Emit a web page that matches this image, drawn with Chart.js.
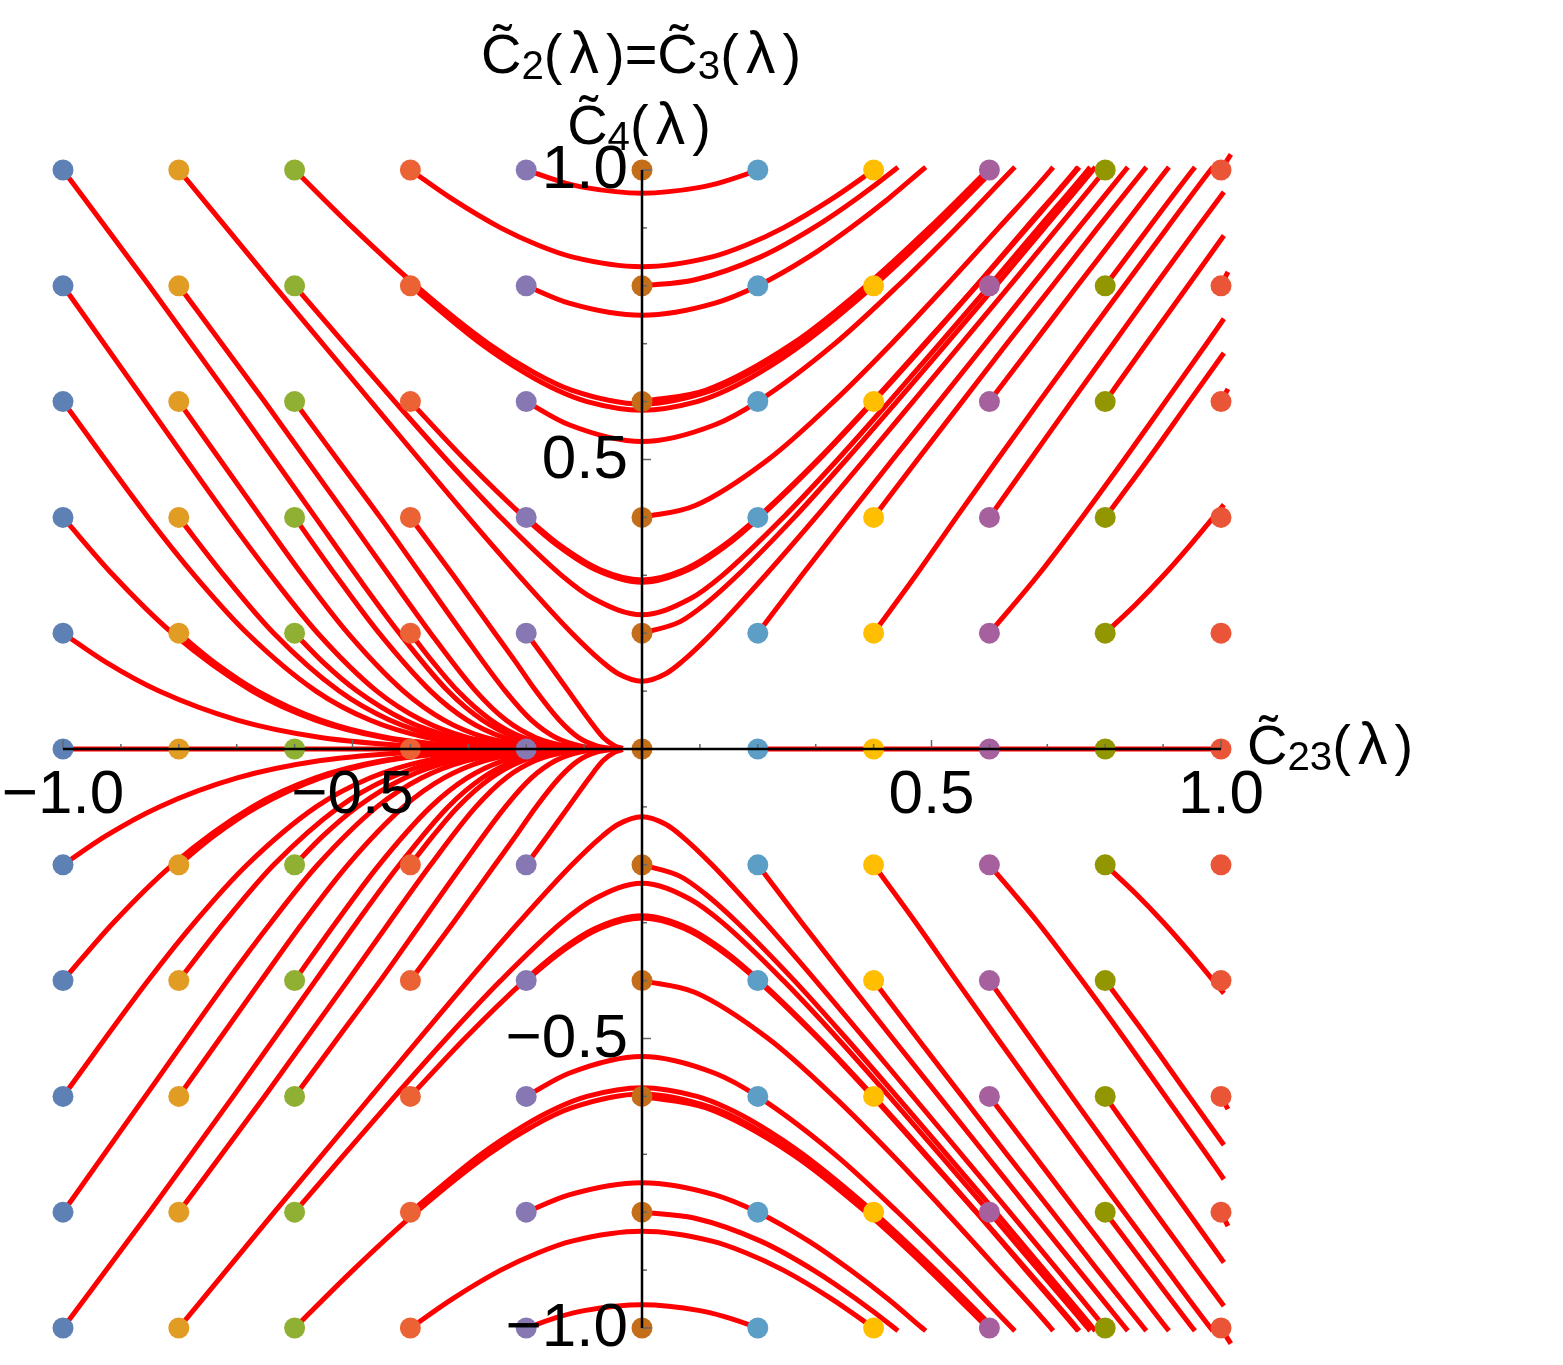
<!DOCTYPE html>
<html>
<head>
<meta charset="utf-8">
<script src="https://cdn.jsdelivr.net/npm/chart.js@4.4.1/dist/chart.umd.min.js"></script>
<style>
  body { margin: 0; background: #fff; }
  #wrap { position: relative; width: 1563px; height: 1365px; font-family: "Liberation Sans", Arial, sans-serif; }
  #flowChart { position: absolute; left: 0; top: 0; }
  .lbl { position: absolute; font-size: 56px; line-height: 1; white-space: nowrap; color: #000; }
  .lbl sub { font-size: 0.72em; vertical-align: -0.16em; line-height: 1; }
  .lam { display: inline-block; width: 0.74em; text-align: center; font-size: 1.05em; }
</style>
</head>
<body>
<div id="wrap">
  <canvas id="flowChart" width="1563" height="1365"></canvas>
  <div class="lbl" style="left:641px; top:24px; transform:translateX(-50%);">C&#x303;<sub>2</sub>(<span class="lam">λ</span>)=C&#x303;<sub>3</sub>(<span class="lam">λ</span>)</div>
  <div class="lbl" style="left:639px; top:95px; transform:translateX(-50%);">C&#x303;<sub>4</sub>(<span class="lam">λ</span>)</div>
  <div class="lbl" style="left:1247px; top:715px;">C&#x303;<sub>23</sub>(<span class="lam">λ</span>)</div>
</div>
<script>
// grid of starting points (one colour per column)
const gridX = [-1, -0.8, -0.6, -0.4, -0.2, 0, 0.2, 0.4, 0.6, 0.8, 1];
const gridY = [1, 0.8, 0.6, 0.4, 0.2, 0, -0.2, -0.4, -0.6, -0.8, -1];
const dotColors = ['#5E81B5', '#E19C24', '#8FB032', '#EB6235', '#8778B3', '#C56E1A',
                   '#5D9EC7', '#FFBF00', '#A5609D', '#929600', '#E95536'];

// axis ticks
const minorTickValues = [-1, -0.9, -0.8, -0.7, -0.6, -0.5, -0.4, -0.3, -0.2, -0.1,
                         0.1, 0.2, 0.3, 0.4, 0.5, 0.6, 0.7, 0.8, 0.9, 1];
const tickLabelValues = [-1, -0.5, 0.5, 1];

// flow lines, each one [x, y, x, y, ...] = [C23, C4] along lambda
const flowsToOriginUpper = [
  [-1,1, -0.851,0.8, -0.706,0.6, -0.564,0.4, -0.493,0.3, -0.419,0.2, -0.335,0.1, -0.276,0.05, -0.218,0.02, -0.154,0.005, -0.103,0.001, -0.033,0],
  [-1,0.8, -0.858,0.6, -0.716,0.4, -0.641,0.3, -0.560,0.2, -0.458,0.1, -0.381,0.05, -0.302,0.02, -0.213,0.005, -0.142,0.001, -0.080,0.0001, -0.033,0],
  [-0.8,0.8, -0.652,0.6, -0.508,0.4, -0.437,0.3, -0.365,0.2, -0.287,0.1, -0.235,0.05, -0.184,0.02, -0.130,0.005, -0.087,0.001, -0.033,0],
  [-1,0.6, -0.853,0.4, -0.773,0.3, -0.682,0.2, -0.563,0.1, -0.470,0.05, -0.373,0.02, -0.263,0.005, -0.176,0.001, -0.099,0.0001, -0.033,0],
  [-0.8,0.6, -0.658,0.4, -0.586,0.3, -0.508,0.2, -0.412,0.1, -0.342,0.05, -0.271,0.02, -0.191,0.005, -0.128,0.001, -0.072,0.0001, -0.033,0],
  [-0.6,0.6, -0.526,0.5, -0.452,0.4, -0.381,0.3, -0.310,0.2, -0.236,0.1, -0.191,0.05, -0.149,0.02, -0.105,0.005, -0.070,0.001, -0.033,0],
  [-1,0.4, -0.913,0.3, -0.811,0.2, -0.673,0.1, -0.564,0.05, -0.447,0.02, -0.316,0.005, -0.211,0.001, -0.119,0.0001, -0.033,0],
  [-0.8,0.4, -0.722,0.3, -0.636,0.2, -0.523,0.1, -0.436,0.05, -0.346,0.02, -0.244,0.005, -0.163,0.001, -0.092,0.0001, -0.033,0],
  [-0.6,0.4, -0.529,0.3, -0.454,0.2, -0.365,0.1, -0.302,0.05, -0.239,0.02, -0.168,0.005, -0.113,0.001, -0.063,0.0001, -0.033,0],
  [-0.4,0.4, -0.326,0.3, -0.254,0.2, -0.218,0.15, -0.183,0.1, -0.143,0.05, -0.110,0.02, -0.077,0.005, -0.052,0.001, -0.033,0],
  [-1,0.2, -0.926,0.15, -0.834,0.1, -0.699,0.05, -0.555,0.02, -0.392,0.005, -0.262,0.001, -0.148,0.0001, -0.033,0],
  [-0.8,0.2, -0.739,0.15, -0.664,0.1, -0.555,0.05, -0.441,0.02, -0.311,0.005, -0.208,0.001, -0.117,0.0001, -0.033,0],
  [-0.6,0.2, -0.551,0.15, -0.492,0.1, -0.410,0.05, -0.325,0.02, -0.230,0.005, -0.154,0.001, -0.086,0.0001, -0.033,0],
  [-0.4,0.2, -0.361,0.15, -0.318,0.1, -0.261,0.05, -0.206,0.02, -0.145,0.005, -0.097,0.001, -0.033,0],
  [-0.2,0.2, -0.163,0.15, -0.127,0.1, -0.091,0.05, -0.067,0.02, -0.046,0.005, -0.033,0.001]
];

const flowsToOriginLower = [
  [-1,-1, -0.851,-0.8, -0.706,-0.6, -0.564,-0.4, -0.493,-0.3, -0.419,-0.2, -0.335,-0.1, -0.276,-0.05, -0.218,-0.02, -0.154,-0.005, -0.103,-0.001, -0.033,0],
  [-1,-0.8, -0.858,-0.6, -0.716,-0.4, -0.641,-0.3, -0.560,-0.2, -0.458,-0.1, -0.381,-0.05, -0.302,-0.02, -0.213,-0.005, -0.142,-0.001, -0.080,-0.0001, -0.033,0],
  [-0.8,-0.8, -0.652,-0.6, -0.508,-0.4, -0.437,-0.3, -0.365,-0.2, -0.287,-0.1, -0.235,-0.05, -0.184,-0.02, -0.130,-0.005, -0.087,-0.001, -0.033,0],
  [-1,-0.6, -0.853,-0.4, -0.773,-0.3, -0.682,-0.2, -0.563,-0.1, -0.470,-0.05, -0.373,-0.02, -0.263,-0.005, -0.176,-0.001, -0.099,-0.0001, -0.033,0],
  [-0.8,-0.6, -0.658,-0.4, -0.586,-0.3, -0.508,-0.2, -0.412,-0.1, -0.342,-0.05, -0.271,-0.02, -0.191,-0.005, -0.128,-0.001, -0.072,-0.0001, -0.033,0],
  [-0.6,-0.6, -0.526,-0.5, -0.452,-0.4, -0.381,-0.3, -0.310,-0.2, -0.236,-0.1, -0.191,-0.05, -0.149,-0.02, -0.105,-0.005, -0.070,-0.001, -0.033,0],
  [-1,-0.4, -0.913,-0.3, -0.811,-0.2, -0.673,-0.1, -0.564,-0.05, -0.447,-0.02, -0.316,-0.005, -0.211,-0.001, -0.119,-0.0001, -0.033,0],
  [-0.8,-0.4, -0.722,-0.3, -0.636,-0.2, -0.523,-0.1, -0.436,-0.05, -0.346,-0.02, -0.244,-0.005, -0.163,-0.001, -0.092,-0.0001, -0.033,0],
  [-0.6,-0.4, -0.529,-0.3, -0.454,-0.2, -0.365,-0.1, -0.302,-0.05, -0.239,-0.02, -0.168,-0.005, -0.113,-0.001, -0.063,-0.0001, -0.033,0],
  [-0.4,-0.4, -0.326,-0.3, -0.254,-0.2, -0.218,-0.15, -0.183,-0.1, -0.143,-0.05, -0.110,-0.02, -0.077,-0.005, -0.052,-0.001, -0.033,0],
  [-1,-0.2, -0.926,-0.15, -0.834,-0.1, -0.699,-0.05, -0.555,-0.02, -0.392,-0.005, -0.262,-0.001, -0.148,-0.0001, -0.033,0],
  [-0.8,-0.2, -0.739,-0.15, -0.664,-0.1, -0.555,-0.05, -0.441,-0.02, -0.311,-0.005, -0.208,-0.001, -0.117,-0.0001, -0.033,0],
  [-0.6,-0.2, -0.551,-0.15, -0.492,-0.1, -0.410,-0.05, -0.325,-0.02, -0.230,-0.005, -0.154,-0.001, -0.086,-0.0001, -0.033,0],
  [-0.4,-0.2, -0.361,-0.15, -0.318,-0.1, -0.261,-0.05, -0.206,-0.02, -0.145,-0.005, -0.097,-0.001, -0.033,0],
  [-0.2,-0.2, -0.163,-0.15, -0.127,-0.1, -0.091,-0.05, -0.067,-0.02, -0.046,-0.005, -0.033,-0.001]
];

const crossingFlowsUpper = [
  [-0.8,1, -0.635,0.8, -0.468,0.6, -0.300,0.4, -0.213,0.3, -0.121,0.2, -0.068,0.15, -0.041,0.13, 0,0.117, 0.041,0.13, 0.068,0.15, 0.121,0.2, 0.213,0.3, 0.300,0.4, 0.468,0.6, 0.635,0.8, 0.8,1, 0.804,1.005],
  [-0.6,1, -0.499,0.9, -0.390,0.8, -0.265,0.7, -0.186,0.65, -0.122,0.62, 0,0.596, 0.122,0.62, 0.186,0.65, 0.265,0.7, 0.390,0.8, 0.499,0.9, 0.6,1, 0.605,1.005],
  [-0.4,1, -0.328,0.95, -0.244,0.9, -0.179,0.87, -0.121,0.85, 0,0.833, 0.121,0.85, 0.179,0.87, 0.244,0.9, 0.328,0.95, 0.4,1, 0.407,1.005],
  [-0.2,1, -0.141,0.98, -0.100,0.97, 0,0.960, 0.100,0.97, 0.141,0.98, 0.2,1, 0.212,1.005],
  [-0.6,0.8, -0.514,0.7, -0.427,0.6, -0.338,0.5, -0.244,0.4, -0.139,0.3, -0.084,0.26, 0,0.232, 0.084,0.26, 0.139,0.3, 0.244,0.4, 0.338,0.5, 0.427,0.6, 0.514,0.7, 0.6,0.8, 0.685,0.9, 0.770,1, 0.774,1.005],
  [-0.4,0.8, -0.278,0.7, -0.203,0.65, -0.147,0.62, -0.095,0.6, 0,0.585, 0.095,0.6, 0.147,0.62, 0.203,0.65, 0.278,0.7, 0.4,0.8, 0.507,0.9, 0.607,1, 0.612,1.005],
  [-0.2,0.8, -0.126,0.77, 0,0.749, 0.126,0.77, 0.2,0.8, 0.288,0.85, 0.360,0.9, 0.425,0.95, 0.484,1, 0.490,1.005],
  [0,0.8, 0.090,0.81, 0.205,0.85, 0.296,0.9, 0.370,0.95, 0.436,1, 0.442,1.005],
  [-0.4,0.6, -0.306,0.5, -0.203,0.4, -0.144,0.35, -0.081,0.31, 0,0.288, 0.081,0.31, 0.144,0.35, 0.203,0.4, 0.306,0.5, 0.4,0.6, 0.490,0.7, 0.578,0.8, 0.665,0.9, 0.751,1, 0.755,1.005],
  [-0.2,0.6, -0.126,0.56, 0,0.531, 0.126,0.56, 0.2,0.6, 0.333,0.7, 0.442,0.8, 0.543,0.9, 0.639,1, 0.644,1.005],
  [0,0.6, 0.111,0.62, 0.260,0.7, 0.387,0.8, 0.496,0.9, 0.597,1, 0.602,1.005],
  [-0.2,0.4, -0.139,0.35, -0.073,0.31, 0,0.292, 0.073,0.31, 0.139,0.35, 0.2,0.4, 0.304,0.5, 0.398,0.6, 0.488,0.7, 0.577,0.8, 0.663,0.9, 0.749,1, 0.753,1.005],
  [0,0.4, 0.091,0.42, 0.218,0.5, 0.331,0.6, 0.431,0.7, 0.525,0.8, 0.616,0.9, 0.706,1, 0.710,1.005],
  [0,0.2, 0.066,0.22, 0.109,0.25, 0.165,0.3, 0.263,0.4, 0.353,0.5, 0.440,0.6, 0.526,0.7, 0.611,0.8, 0.695,0.9, 0.779,1, 0.783,1.005]
];

const crossingFlowsLower = [
  [-0.8,-1, -0.635,-0.8, -0.468,-0.6, -0.300,-0.4, -0.213,-0.3, -0.121,-0.2, -0.068,-0.15, -0.041,-0.13, 0,-0.117, 0.041,-0.13, 0.068,-0.15, 0.121,-0.2, 0.213,-0.3, 0.300,-0.4, 0.468,-0.6, 0.635,-0.8, 0.8,-1, 0.804,-1.005],
  [-0.6,-1, -0.499,-0.9, -0.390,-0.8, -0.265,-0.7, -0.186,-0.65, -0.122,-0.62, 0,-0.596, 0.122,-0.62, 0.186,-0.65, 0.265,-0.7, 0.390,-0.8, 0.499,-0.9, 0.6,-1, 0.605,-1.005],
  [-0.4,-1, -0.328,-0.95, -0.244,-0.9, -0.179,-0.87, -0.121,-0.85, 0,-0.833, 0.121,-0.85, 0.179,-0.87, 0.244,-0.9, 0.328,-0.95, 0.4,-1, 0.407,-1.005],
  [-0.2,-1, -0.141,-0.98, -0.100,-0.97, 0,-0.960, 0.100,-0.97, 0.141,-0.98, 0.2,-1, 0.212,-1.005],
  [-0.6,-0.8, -0.514,-0.7, -0.427,-0.6, -0.338,-0.5, -0.244,-0.4, -0.139,-0.3, -0.084,-0.26, 0,-0.232, 0.084,-0.26, 0.139,-0.3, 0.244,-0.4, 0.338,-0.5, 0.427,-0.6, 0.514,-0.7, 0.6,-0.8, 0.685,-0.9, 0.770,-1, 0.774,-1.005],
  [-0.4,-0.8, -0.278,-0.7, -0.203,-0.65, -0.147,-0.62, -0.095,-0.6, 0,-0.585, 0.095,-0.6, 0.147,-0.62, 0.203,-0.65, 0.278,-0.7, 0.4,-0.8, 0.507,-0.9, 0.607,-1, 0.612,-1.005],
  [-0.2,-0.8, -0.126,-0.77, 0,-0.749, 0.126,-0.77, 0.2,-0.8, 0.288,-0.85, 0.360,-0.9, 0.425,-0.95, 0.484,-1, 0.490,-1.005],
  [0,-0.8, 0.090,-0.81, 0.205,-0.85, 0.296,-0.9, 0.370,-0.95, 0.436,-1, 0.442,-1.005],
  [-0.4,-0.6, -0.306,-0.5, -0.203,-0.4, -0.144,-0.35, -0.081,-0.31, 0,-0.288, 0.081,-0.31, 0.144,-0.35, 0.203,-0.4, 0.306,-0.5, 0.4,-0.6, 0.490,-0.7, 0.578,-0.8, 0.665,-0.9, 0.751,-1, 0.755,-1.005],
  [-0.2,-0.6, -0.126,-0.56, 0,-0.531, 0.126,-0.56, 0.2,-0.6, 0.333,-0.7, 0.442,-0.8, 0.543,-0.9, 0.639,-1, 0.644,-1.005],
  [0,-0.6, 0.111,-0.62, 0.260,-0.7, 0.387,-0.8, 0.496,-0.9, 0.597,-1, 0.602,-1.005],
  [-0.2,-0.4, -0.139,-0.35, -0.073,-0.31, 0,-0.292, 0.073,-0.31, 0.139,-0.35, 0.2,-0.4, 0.304,-0.5, 0.398,-0.6, 0.488,-0.7, 0.577,-0.8, 0.663,-0.9, 0.749,-1, 0.753,-1.005],
  [0,-0.4, 0.091,-0.42, 0.218,-0.5, 0.331,-0.6, 0.431,-0.7, 0.525,-0.8, 0.616,-0.9, 0.706,-1, 0.710,-1.005],
  [0,-0.2, 0.066,-0.22, 0.109,-0.25, 0.165,-0.3, 0.263,-0.4, 0.353,-0.5, 0.440,-0.6, 0.526,-0.7, 0.611,-0.8, 0.695,-0.9, 0.779,-1, 0.783,-1.005]
];

const outwardFlowsUpper = [
  [0.2,0.2, 0.276,0.3, 0.354,0.4, 0.433,0.5, 0.513,0.6, 0.593,0.7, 0.673,0.8, 0.754,0.9, 0.835,1, 0.839,1.005],
  [0.4,0.4, 0.476,0.5, 0.553,0.6, 0.630,0.7, 0.709,0.8, 0.787,0.9, 0.867,1, 0.871,1.005],
  [0.4,0.2, 0.473,0.3, 0.543,0.4, 0.614,0.5, 0.686,0.6, 0.759,0.7, 0.833,0.8, 0.907,0.9, 0.982,1, 0.986,1.005],
  [0.6,0.6, 0.676,0.7, 0.752,0.8, 0.829,0.9, 0.906,1, 0.910,1.005],
  [0.6,0.4, 0.671,0.5, 0.742,0.6, 0.814,0.7, 0.886,0.8, 0.959,0.9, 1.005,0.962],
  [0.6,0.2, 0.684,0.3, 0.760,0.4, 0.833,0.5, 0.904,0.6, 0.975,0.7, 1.005,0.743],
  [0.8,0.8, 0.875,0.9, 0.951,1, 0.955,1.005],
  [0.8,0.6, 0.871,0.7, 0.943,0.8, 1.005,0.887],
  [0.8,0.4, 0.874,0.5, 0.945,0.6, 1.005,0.684],
  [0.8,0.2, 0.853,0.25, 0.901,0.3, 0.945,0.35, 1.005,0.422],
  [1,1, 1.017,1.027],
  [1,0.8, 1.012,0.824],
  [1,0.6, 1.012,0.622]
];

const outwardFlowsLower = [
  [0.2,-0.2, 0.276,-0.3, 0.354,-0.4, 0.433,-0.5, 0.513,-0.6, 0.593,-0.7, 0.673,-0.8, 0.754,-0.9, 0.835,-1, 0.839,-1.005],
  [0.4,-0.4, 0.476,-0.5, 0.553,-0.6, 0.630,-0.7, 0.709,-0.8, 0.787,-0.9, 0.867,-1, 0.871,-1.005],
  [0.4,-0.2, 0.473,-0.3, 0.543,-0.4, 0.614,-0.5, 0.686,-0.6, 0.759,-0.7, 0.833,-0.8, 0.907,-0.9, 0.982,-1, 0.986,-1.005],
  [0.6,-0.6, 0.676,-0.7, 0.752,-0.8, 0.829,-0.9, 0.906,-1, 0.910,-1.005],
  [0.6,-0.4, 0.671,-0.5, 0.742,-0.6, 0.814,-0.7, 0.886,-0.8, 0.959,-0.9, 1.005,-0.962],
  [0.6,-0.2, 0.684,-0.3, 0.760,-0.4, 0.833,-0.5, 0.904,-0.6, 0.975,-0.7, 1.005,-0.743],
  [0.8,-0.8, 0.875,-0.9, 0.951,-1, 0.955,-1.005],
  [0.8,-0.6, 0.871,-0.7, 0.943,-0.8, 1.005,-0.887],
  [0.8,-0.4, 0.874,-0.5, 0.945,-0.6, 1.005,-0.684],
  [0.8,-0.2, 0.853,-0.25, 0.901,-0.3, 0.945,-0.35, 1.005,-0.422],
  [1,-1, 1.017,-1.027],
  [1,-0.8, 1.012,-0.824],
  [1,-0.6, 1.012,-0.622]
];

const axisFlows = [
  [-1,0, -0.033,0],
  [0.2,0, 1.005,0]
];

function toPoints(flat) {
  const pts = [];
  for (let i = 0; i < flat.length; i += 2) pts.push({ x: flat[i], y: flat[i + 1] });
  return pts;
}

function fmt(v) {
  return (v < 0 ? '\u2212' : '') + Math.abs(v).toFixed(1);
}

const datasets = [];

// starting points, one dataset per column
gridX.forEach((gx, i) => {
  datasets.push({
    data: gridY.map(gy => ({ x: gx, y: gy })),
    backgroundColor: dotColors[i],
    borderWidth: 0,
    pointRadius: 10.5,
    pointHoverRadius: 10.5,
    showLine: false,
    order: 0
  });
});

const allFlows = [].concat(flowsToOriginUpper, flowsToOriginLower, crossingFlowsUpper,
  crossingFlowsLower, outwardFlowsUpper, outwardFlowsLower, axisFlows);

allFlows.forEach(f => {
  datasets.push({
    data: toPoints(f),
    showLine: true,
    borderColor: '#ff0000',
    borderWidth: 5,
    pointRadius: 0,
    fill: false,
    cubicInterpolationMode: 'monotone',
    order: 1
  });
});

// axes through the origin, ticks pointing inward like the original
const centerAxes = {
  id: 'centerAxes',
  afterDatasetsDraw(chart) {
    const { ctx, scales: { x, y } } = chart;
    const x0 = x.getPixelForValue(0);
    const y0 = y.getPixelForValue(0);
    ctx.save();

    ctx.strokeStyle = '#666';
    ctx.lineWidth = 1.5;
    minorTickValues.forEach(v => {
      const len = tickLabelValues.includes(v) ? 9 : 5;
      const px = x.getPixelForValue(v);
      ctx.beginPath(); ctx.moveTo(px, y0); ctx.lineTo(px, y0 - len); ctx.stroke();
      const py = y.getPixelForValue(v);
      ctx.beginPath(); ctx.moveTo(x0, py); ctx.lineTo(x0 + len, py); ctx.stroke();
    });

    ctx.strokeStyle = '#000';
    ctx.lineWidth = 2.5;
    ctx.beginPath();
    ctx.moveTo(x.getPixelForValue(-1), y0); ctx.lineTo(x.getPixelForValue(1), y0);
    ctx.moveTo(x0, y.getPixelForValue(1)); ctx.lineTo(x0, y.getPixelForValue(-1));
    ctx.stroke();

    ctx.fillStyle = '#000';
    ctx.font = '62px "Liberation Sans", Arial, sans-serif';
    ctx.textBaseline = 'alphabetic';
    ctx.textAlign = 'center';
    tickLabelValues.forEach(v => ctx.fillText(fmt(v), x.getPixelForValue(v), y0 + 64));
    ctx.textAlign = 'right';
    tickLabelValues.forEach(v => ctx.fillText(fmt(v), x0 - 14, y.getPixelForValue(v) + 18));

    ctx.restore();
  }
};

new Chart(document.getElementById('flowChart').getContext('2d'), {
  type: 'scatter',
  data: { datasets },
  options: {
    responsive: false,
    animation: false,
    devicePixelRatio: 1,
    layout: { padding: 0, autoPadding: false },
    plugins: { legend: { display: false }, tooltip: { enabled: false } },
    scales: {
      x: { type: 'linear', min: -642 / 579, max: (1563 - 642) / 579, display: false },
      y: { type: 'linear', min: (749 - 1365) / 579, max: 749 / 579, display: false }
    }
  },
  plugins: [centerAxes]
});
</script>
</body>
</html>
